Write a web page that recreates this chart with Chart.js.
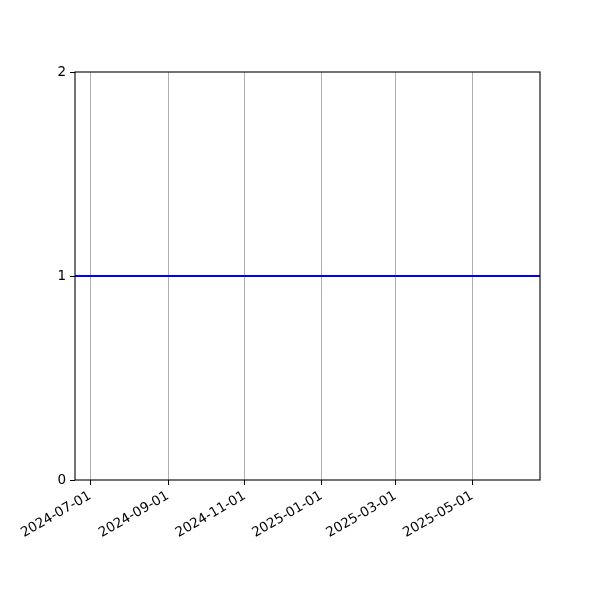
<!DOCTYPE html>
<html>
<head>
<meta charset="utf-8">
<script src="https://cdn.jsdelivr.net/npm/chart.js@4"></script>
<style>
  html, body { margin: 0; padding: 0; background: #fff; }
  #wrap { width: 600px; height: 600px; }
</style>
</head>
<body>
<div id="wrap"><canvas id="chart" width="600" height="600"></canvas></div>
<script>
// data
const dates = ['2024-06-19', '2024-08-01', '2024-10-01', '2024-12-01', '2025-02-01', '2025-04-01', '2025-06-01', '2025-06-24'];
const values = [1, 1, 1, 1, 1, 1, 1, 1];
const tickDates = ['2024-07-01', '2024-09-01', '2024-11-01', '2025-01-01', '2025-03-01', '2025-05-01'];
const yTicks = [0, 1, 2];
const xRange = ['2024-06-19', '2025-06-24'];

const toMs = (s) => {
  const [y, m, d] = s.split('-').map(Number);
  return Date.UTC(y, m - 1, d);
};
const fmt = (ms) => new Date(ms).toISOString().slice(0, 10);

const frame = {
  id: 'frame',
  afterDraw(chart) {
    const { ctx, chartArea: a } = chart;
    ctx.save();
    ctx.strokeStyle = '#000';
    ctx.lineWidth = 1.1;
    ctx.strokeRect(a.left, a.top, a.right - a.left, a.bottom - a.top);
    ctx.restore();
  }
};

const font = { family: "'DejaVu Sans', sans-serif", size: 13.5 };

new Chart(document.getElementById('chart'), {
  type: 'line',
  data: {
    datasets: [{
      data: dates.map((d, i) => ({ x: toMs(d), y: values[i] })),
      borderColor: '#0000ff',
      borderWidth: 2,
      pointRadius: 0,
      fill: false,
      tension: 0
    }]
  },
  options: {
    responsive: false,
    animation: false,
    layout: { padding: { top: 72, right: 60, left: 0, bottom: 0 } },
    plugins: { legend: { display: false }, tooltip: { enabled: false } },
    scales: {
      x: {
        type: 'linear',
        min: toMs(xRange[0]),
        max: toMs(xRange[1]),
        afterBuildTicks: (s) => { s.ticks = tickDates.map(d => ({ value: toMs(d) })); },
        afterFit: (s) => { s.height = 120; },
        border: { display: false },
        grid: { color: '#b0b0b0', lineWidth: 1, tickColor: '#000', tickLength: 5 },
        ticks: {
          color: '#000', font, minRotation: 30, maxRotation: 30, padding: 3,
          autoSkip: false,
          callback: (v) => fmt(v)
        }
      },
      y: {
        min: 0,
        max: 2,
        afterBuildTicks: (s) => { s.ticks = yTicks.map(v => ({ value: v })); },
        afterFit: (s) => { s.width = 75; },
        border: { display: false },
        grid: { drawOnChartArea: false, tickColor: '#000', tickLength: 5 },
        ticks: { color: '#000', font, padding: 4 }
      }
    }
  },
  plugins: [frame]
});
</script>
</body>
</html>
